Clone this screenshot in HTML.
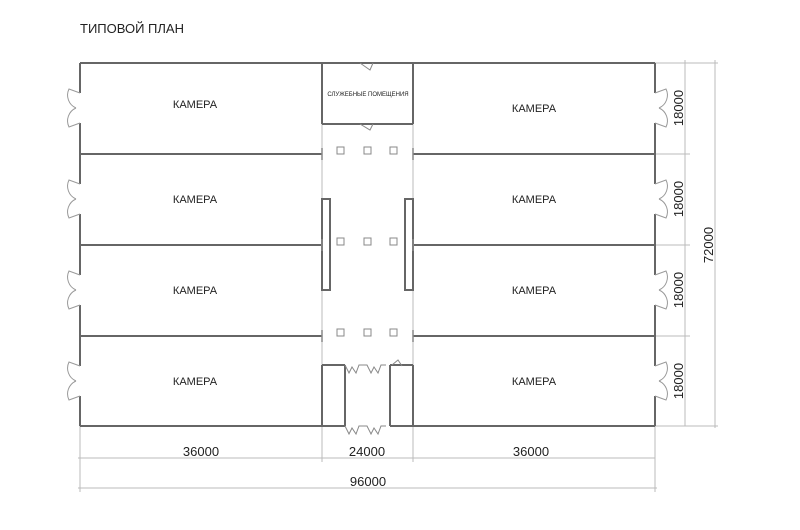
<!DOCTYPE html>
<html><head><meta charset="utf-8"><style>
html,body{margin:0;padding:0;background:#fff;}
svg{display:block;font-family:"Liberation Sans","DejaVu Sans",sans-serif;}
</style></head><body>
<svg width="800" height="530" viewBox="0 0 800 530" xmlns="http://www.w3.org/2000/svg">
<defs>
<g id="dl" fill="none" stroke="#999" stroke-width="1">
 <path d="M0,-15 L-11,-19 A14,14 0 0 0 -4,0 M0,15 L-11,19 A14,14 0 0 1 -4,0"/>
</g>
<g id="dr" fill="none" stroke="#999" stroke-width="1">
 <path d="M0,-15 L11,-19 A14,14 0 0 1 4,0 M0,15 L11,19 A14,14 0 0 0 4,0"/>
</g>
</defs>
<rect width="800" height="530" fill="#fff"/>
<text x="80" y="33" font-size="13" fill="#222">ТИПОВОЙ ПЛАН</text>

<g stroke="#bbb" stroke-width="1" fill="none">
 <path d="M80,426 V492 M322,426 V462 M413,426 V462 M655,426 V492"/>
 <path d="M78,458 H655 M78,488 H657"/>
 <path d="M655,63 H718 M655,154 H690 M655,245 H690 M655,336 H690 M655,426 H718"/>
 <path d="M685,60 V426 M715,60 V428"/>
 <path d="M322,124 V365 M413,124 V365"/>
</g>

<g stroke="#666" stroke-width="2" fill="none">
 <path d="M80,63 H655"/>
 <path d="M80,426 H345 M390,426 H655"/>
 <path d="M80,63 V93 M80,123 V184 M80,214 V275 M80,305 V366 M80,396 V426"/>
 <path d="M655,63 V93 M655,123 V184 M655,214 V275 M655,305 V366 M655,396 V426"/>
 <path d="M80,154 H322 M80,245 H322 M80,336 H322"/>
 <path d="M413,154 H655 M413,245 H655 M413,336 H655"/>
 <path d="M322,63 V124 M413,63 V124 M322,124 H413"/>
 <rect x="322" y="199" width="8" height="91"/>
 <rect x="405" y="199" width="8" height="91"/>
 <path d="M322,365 V426 M345,365 V426 M390,365 V426 M413,365 V426"/>
 <path d="M322,365 H345 M390,365 H413"/>
</g>
<g stroke="#888" stroke-width="1.5"><path d="M322,148 V160 M413,148 V160 M322,239 V251 M413,239 V251 M322,330 V342 M413,330 V342"/></g>

<use href="#dl" x="80" y="108"/><use href="#dl" x="80" y="199"/><use href="#dl" x="80" y="290"/><use href="#dl" x="80" y="381"/>
<use href="#dr" x="655" y="108"/><use href="#dr" x="655" y="199"/><use href="#dr" x="655" y="290"/><use href="#dr" x="655" y="381"/>
<g fill="none" stroke="#888" stroke-width="1">
 <path d="M360,63 L370,70 L373,63"/>
 <path d="M360,124 L370,130 L373,124"/>
 <path d="M345,365 l4,8 l3,-6 l4,6 l3,-8 h8 l4,8 l3,-6 l4,6 l3,-8 h5"/>
 <path d="M345,426 l4,8 l3,-6 l4,6 l3,-8 h8 l4,8 l3,-6 l4,6 l3,-8 h5"/>
 <path d="M392,365 l6,-5 l4,6"/>
 <rect x="337" y="147" width="7" height="7"/><rect x="364" y="147" width="7" height="7"/><rect x="390" y="147" width="7" height="7"/>
 <rect x="337" y="238" width="7" height="7"/><rect x="364" y="238" width="7" height="7"/><rect x="390" y="238" width="7" height="7"/>
 <rect x="337" y="329" width="7" height="7"/><rect x="364" y="329" width="7" height="7"/><rect x="390" y="329" width="7" height="7"/>
</g>

<g font-size="11" fill="#222" text-anchor="middle">
 <text x="195" y="108">КАМЕРА</text><text x="534" y="112">КАМЕРА</text>
 <text x="195" y="203">КАМЕРА</text><text x="534" y="203">КАМЕРА</text>
 <text x="195" y="294">КАМЕРА</text><text x="534" y="294">КАМЕРА</text>
 <text x="195" y="385">КАМЕРА</text><text x="534" y="385">КАМЕРА</text>
 <text x="368" y="96" font-size="6">СЛУЖЕБНЫЕ ПОМЕЩЕНИЯ</text>
</g>
<g font-size="13" fill="#222" text-anchor="middle">
 <text x="201" y="456">36000</text><text x="367" y="456">24000</text><text x="531" y="456">36000</text>
 <text x="368" y="486">96000</text>
 <text transform="translate(683,108) rotate(-90)">18000</text>
 <text transform="translate(683,199) rotate(-90)">18000</text>
 <text transform="translate(683,290) rotate(-90)">18000</text>
 <text transform="translate(683,381) rotate(-90)">18000</text>
 <text transform="translate(713,245) rotate(-90)">72000</text>
</g>
</svg>
</body></html>
